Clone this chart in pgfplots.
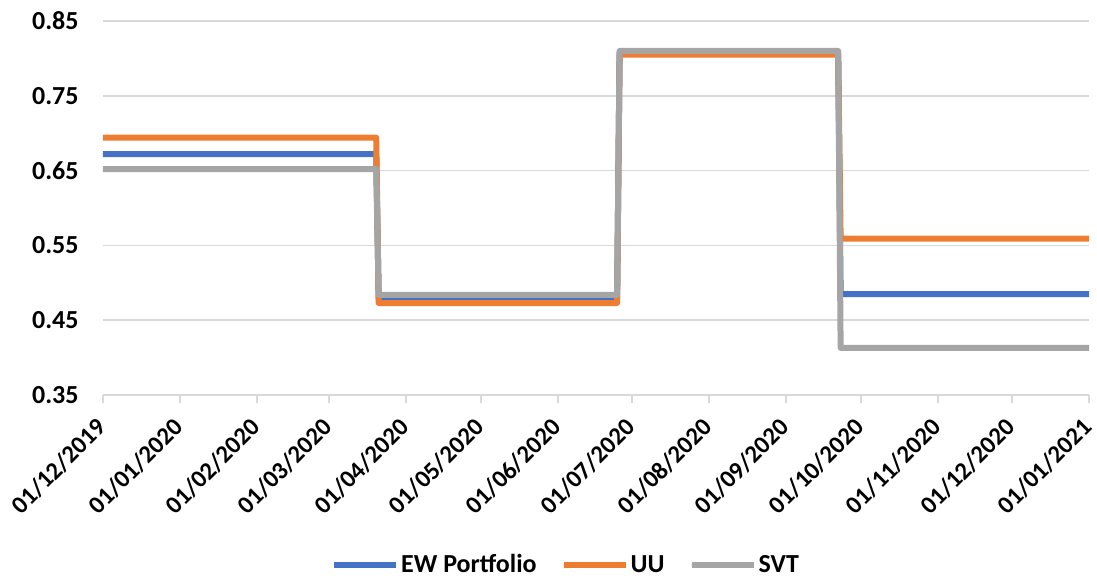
\documentclass[border=0pt]{standalone}
\usepackage{pgfplots}
\pgfplotsset{compat=1.18}
\usepackage{fontspec}
\setmainfont{Carlito}
\definecolor{cBlue}{HTML}{4472C4}
\definecolor{cOrange}{HTML}{ED7D31}
\definecolor{cGray}{HTML}{A5A5A5}
\definecolor{cGrid}{HTML}{D9D9D9}
\begin{document}
\begin{tikzpicture}
\useasboundingbox (-51.5pt,-91.5pt) rectangle (497pt,197.5pt);
\begin{axis}[
  at={(0pt,0pt)}, anchor=south west,
  scale only axis,
  width=493pt, height=187pt,
  xmin=0, xmax=397,
  ymin=0.35, ymax=0.85,
  axis x line=bottom, axis y line=left,
  axis line style={-},
  y axis line style={draw=none},
  x axis line style={draw=cGrid, line width=1pt},
  xtick={0,31,62,91,122,152,183,213,244,275,305,336,366,397},
  xticklabels={01/12/2019,01/01/2020,01/02/2020,01/03/2020,01/04/2020,01/05/2020,01/06/2020,01/07/2020,01/08/2020,01/09/2020,01/10/2020,01/11/2020,01/12/2020,01/01/2021},
  ytick={0.35,0.45,0.55,0.65,0.75,0.85},
  yticklabel style={/pgf/number format/fixed, /pgf/number format/fixed zerofill, /pgf/number format/precision=2, /pgf/number format/assume math mode=true},
  tick align=outside,
  major tick length=4pt,
  xtick style={draw=cGrid, line width=1pt},
  ytick style={draw=none},
  ymajorgrids,
  grid style={draw=cGrid, line width=0.8pt},
  tick label style={font=\bfseries\fontsize{13}{15}\selectfont, text=black},
  xticklabel style={xshift=-0.5pt, yshift=-10pt, rotate=45, anchor=east, inner sep=0pt, font=\bfseries\fontsize{12.4}{14}\selectfont},
  yticklabel style={anchor=east, inner sep=0pt, xshift=-8pt},
  legend style={at={(0.4696,-0.455)}, anchor=center, draw=none,
    font=\bfseries\fontsize{13}{15}\selectfont,
    legend columns=-1,
    nodes={inner sep=1pt},
    /tikz/every even column/.append style={column sep=11pt}},
  legend image code/.code={\draw[#1, line cap=round] (1.5pt,0pt) -- (29.5pt,0pt); \path (0pt,0pt) -- (31pt,0pt);},
  every axis plot/.append style={line width=3pt, line join=round},
]
\addplot[cBlue] coordinates {(0,0.672) (110,0.672) (111,0.478) (207,0.478) (208,0.808) (296,0.808) (297,0.485) (397,0.485)};
\addlegendentry{EW Portfolio}
\addplot[cOrange] coordinates {(0,0.694) (110,0.694) (111,0.473) (207,0.473) (208,0.805) (296,0.805) (297,0.559) (397,0.559)};
\addlegendentry{UU}
\addplot[cGray] coordinates {(0,0.652) (110,0.652) (111,0.484) (207,0.484) (208,0.810) (296,0.810) (297,0.413) (397,0.413)};
\addlegendentry{SVT}
\end{axis}
\end{tikzpicture}
\end{document}
